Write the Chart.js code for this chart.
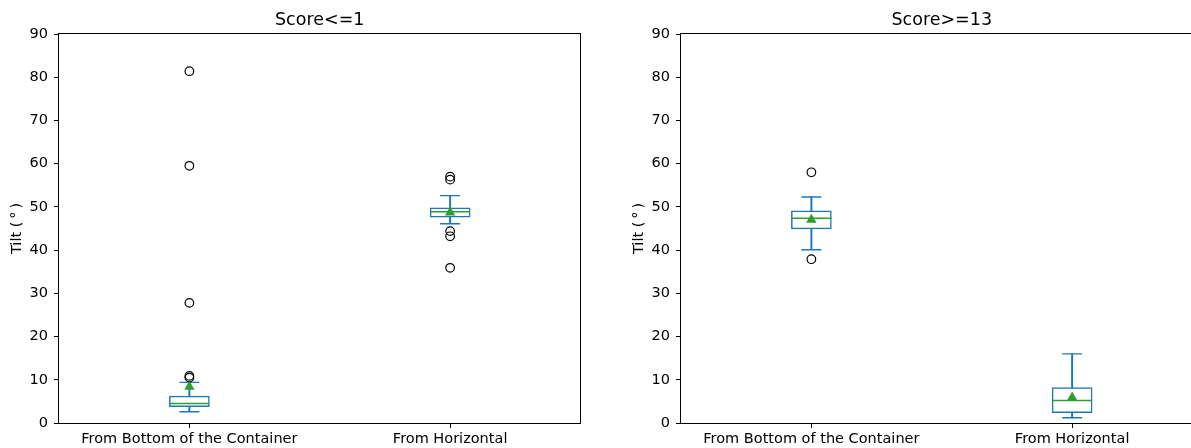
<!DOCTYPE html>
<html>
<head>
<meta charset="utf-8">
<script src="https://cdn.jsdelivr.net/npm/chart.js@4/dist/chart.umd.min.js"></script>
<style>
  html, body { margin: 0; padding: 0; background: #fff; overflow: hidden; width: 1191px; height: 448px; }
  #wrap { position: relative; width: 1191px; height: 448px; overflow: hidden; }
  .panel { position: absolute; top: 0; width: 602px; height: 448px; }
  #p1 { left: 0; }
  #p2 { left: 622px; }
</style>
</head>
<body>
<div id="wrap">
  <div class="panel" id="p1"><canvas id="c1" width="602" height="448"></canvas></div>
  <div class="panel" id="p2"><canvas id="c2" width="602" height="448"></canvas></div>
</div>
<script>
// Groups on the x axis
const categories = ['From Bottom of the Container', 'From Horizontal'];
const yTicks = [0, 10, 20, 30, 40, 50, 60, 70, 80, 90];

// Score<=1 : box statistics per group
const lowTitle = 'Score<=1';
const lowWhiskerMin = [2.6, 46.1];
const lowQ1 = [3.8, 47.6];
const lowMedian = [4.5, 48.9];
const lowQ3 = [6.2, 49.8];
const lowWhiskerMax = [9.4, 52.6];
const lowMean = [8.4, 48.7];
const lowOutliersBottom = [81.4, 59.5, 27.8, 10.9, 10.5];
const lowOutliersHorizontal = [57.0, 56.3, 44.4, 43.2, 35.9];

// Score>=13 : box statistics per group
const highTitle = 'Score>=13';
const highWhiskerMin = [40.1, 1.2];
const highQ1 = [44.9, 2.4];
const highMedian = [47.4, 5.2];
const highQ3 = [49.1, 8.2];
const highWhiskerMax = [52.3, 16.0];
const highMean = [47.0, 5.9];
const highOutliersBottom = [58.0, 37.9];
const highOutliersHorizontal = [];

const BLUE = '#1f77b4';
const GREEN = '#2ca02c';
const FONT = "'DejaVu Sans', sans-serif";

// full black frame round the plotting area
const framePlugin = {
  id: 'frame',
  afterDraw(chart) {
    const { ctx, chartArea: a } = chart;
    ctx.save();
    ctx.strokeStyle = '#000';
    ctx.lineWidth = 1;
    const l = Math.round(a.left) - 0.5, t = Math.round(a.top) - 0.5;
    const r = Math.round(a.right) - 0.5, b = Math.round(a.bottom) + 0.5;
    ctx.strokeRect(l, t, r - l, b - t);
    ctx.restore();
  }
};

function pts(values) {
  return values.map((v, i) => ({ x: categories[i], y: v }));
}

function buildBoxChart(canvasId, title, s) {
  const outliers = s.outBottom.map(v => ({ x: categories[0], y: v }))
    .concat(s.outHorizontal.map(v => ({ x: categories[1], y: v })));
  const tickStyle = { color: '#000', font: { family: FONT, size: 14.5 } };
  const gridStyle = { display: true, drawOnChartArea: false, drawTicks: true, tickLength: 5, tickColor: '#000', tickWidth: 1, offset: false };
  return new Chart(document.getElementById(canvasId), {
    type: 'bar',
    data: {
      labels: categories,
      datasets: [
        { // whiskers
          type: 'bar', data: s.lo.map((v, i) => [v, s.hi[i]]),
          backgroundColor: BLUE, borderWidth: 0, barThickness: 1.3, grouped: false, order: 6 },
        { // interquartile boxes
          type: 'bar', data: s.q1.map((v, i) => [v, s.q3[i]]),
          backgroundColor: '#fff', borderColor: BLUE, borderWidth: 1.5, borderSkipped: false,
          barThickness: 40, grouped: false, order: 5 },
        { // whisker caps
          type: 'line', data: pts(s.lo).concat(pts(s.hi)), showLine: false,
          pointStyle: 'line', pointRadius: 10, pointBorderColor: BLUE, pointBorderWidth: 1.4,
          borderColor: BLUE, borderWidth: 1.4, order: 4 },
        { // medians
          type: 'line', data: pts(s.med), showLine: false,
          pointStyle: 'line', pointRadius: 20, pointBorderColor: GREEN, pointBorderWidth: 1.5,
          borderColor: GREEN, borderWidth: 1.5, order: 3 },
        { // fliers
          type: 'line', data: outliers, showLine: false,
          pointStyle: 'circle', pointRadius: 4.3, pointBorderColor: '#000', pointBorderWidth: 1.2,
          pointBackgroundColor: 'rgba(0,0,0,0)', borderColor: '#000', order: 2 },
        { // means
          type: 'line', data: pts(s.mean), showLine: false,
          pointStyle: 'triangle', pointRadius: 6, pointBackgroundColor: GREEN, pointBorderColor: GREEN,
          pointBorderWidth: 0, borderColor: GREEN, order: 1 }
      ]
    },
    options: {
      responsive: false,
      animation: false,
      events: [],
      layout: { padding: { left: 0, right: 19, top: 0, bottom: 0 } },
      plugins: {
        legend: { display: false },
        tooltip: { enabled: false },
        title: {
          display: true, text: title, color: '#000', fullSize: false,
          font: { family: FONT, size: 17.5, weight: 'normal' },
          padding: { top: 9.5, bottom: 3.5 }
        }
      },
      scales: {
        x: {
          type: 'category', offset: true,
          grid: gridStyle,
          border: { display: false },
          ticks: Object.assign({ padding: 3, maxRotation: 0, autoSkip: false }, tickStyle),
          afterFit(scale) { scale.height = 25; scale.paddingLeft = 0; scale.paddingRight = 0; }
        },
        y: {
          min: yTicks[0], max: yTicks[yTicks.length - 1],
          afterBuildTicks(scale) { scale.ticks = yTicks.map(v => ({ value: v })); },
          grid: gridStyle,
          border: { display: false },
          ticks: Object.assign({ padding: 6 }, tickStyle),
          title: {
            display: true, text: 'Tilt (\u2009°\u2009)', color: '#000',
            font: { family: FONT, size: 14.5 }, padding: { top: 8.6, bottom: 0 }
          },
          afterFit(scale) { scale.width = 59; }
        }
      }
    },
    plugins: [framePlugin]
  });
}

buildBoxChart('c1', lowTitle, {
  lo: lowWhiskerMin, q1: lowQ1, med: lowMedian, q3: lowQ3, hi: lowWhiskerMax, mean: lowMean,
  outBottom: lowOutliersBottom, outHorizontal: lowOutliersHorizontal
});
buildBoxChart('c2', highTitle, {
  lo: highWhiskerMin, q1: highQ1, med: highMedian, q3: highQ3, hi: highWhiskerMax, mean: highMean,
  outBottom: highOutliersBottom, outHorizontal: highOutliersHorizontal
});
</script>
</body>
</html>
